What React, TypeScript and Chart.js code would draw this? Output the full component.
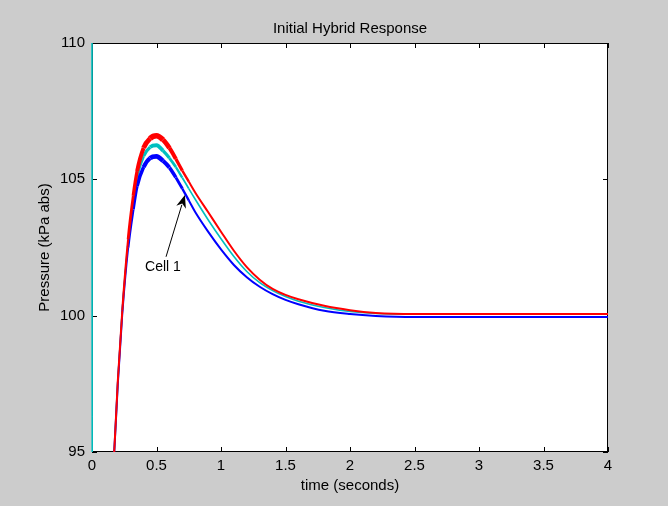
import React, { useEffect, useRef } from "react";
import { Chart, registerables } from "chart.js";

Chart.register(...registerables);

// ---- data ----
const TIME = [0.003, 0.17, 0.2, 0.235, 0.28, 0.32, 0.35, 0.4, 0.45, 0.5, 0.55, 0.6, 0.65, 0.7, 0.75, 0.8, 0.9, 1.0, 1.1, 1.2, 1.3, 1.4, 1.5, 1.6, 1.8, 2.0, 2.2, 2.5, 3.0, 3.5, 4.0];
const RED = [85, 94.8, 97.6, 100.2, 102.8, 104.4, 105.3, 106.15, 106.5, 106.6, 106.45, 106.15, 105.75, 105.32, 104.92, 104.52, 103.8, 103.08, 102.38, 101.78, 101.32, 100.98, 100.76, 100.6, 100.36, 100.2, 100.1, 100.06, 100.06, 100.06, 100.06];
const BLUE = [85, 94.8, 97.5, 100.1, 102.5, 103.9, 104.75, 105.45, 105.78, 105.84, 105.68, 105.43, 105.07, 104.66, 104.23, 103.8, 103.08, 102.43, 101.86, 101.41, 101.06, 100.79, 100.58, 100.42, 100.18, 100.06, 99.99, 99.95, 99.95, 99.95, 99.95];
const CYAN_TIME = [0, 0.003, 0.17, 0.2, 0.235, 0.28, 0.32, 0.35, 0.4, 0.45, 0.5, 0.55, 0.6, 0.65, 0.7, 0.75, 0.8, 0.9, 1.0, 1.1, 1.2, 1.3, 1.4, 1.5, 1.6, 1.8, 2.0, 2.2, 2.6];
const CYAN = [112, 85, 94.8, 97.6, 100.2, 102.7, 104.25, 105.1, 105.85, 106.18, 106.25, 106.05, 105.78, 105.45, 105.06, 104.66, 104.27, 103.52, 102.82, 102.17, 101.62, 101.21, 100.92, 100.7, 100.53, 100.3, 100.15, 100.08, 100.05];

const X_TICKS = [0, 0.5, 1, 1.5, 2, 2.5, 3, 3.5, 4];
const Y_TICKS = [95, 100, 105, 110];

const TITLE = "Initial Hybrid Response";
const X_LABEL = "time (seconds)";
const Y_LABEL = "Pressure (kPa abs)";

const ANNOT_TEXT = "Cell 1";
const ANNOT_TEXT_POS = [0.55, 101.79];
const ANNOT_TAIL = [0.574, 102.16];
const ANNOT_TIP = [0.72, 104.43];

const FONT_FAMILY = "'Liberation Sans', Arial, Helvetica, sans-serif";
const font = { family: FONT_FAMILY, size: 15, weight: "normal" as const };

function widthFn(base: number, peak: number) {
  return (ctx: any) => {
    const t = (ctx.p0.parsed.x + ctx.p1.parsed.x) / 2;
    const k = Math.max(0, 1 - Math.abs(t - 0.5) / 0.25);
    return base + (peak - base) * k;
  };
}

const axesPlugin = {
  id: "matlabAxes",
  beforeDraw(chart: any) {
    const { ctx, chartArea: a } = chart;
    ctx.save();
    ctx.fillStyle = "#ffffff";
    ctx.fillRect(a.left, a.top, a.right - a.left, a.bottom - a.top);
    ctx.restore();
  },
  beforeDatasetsDraw(chart: any) {
    const { ctx, chartArea: a, scales } = chart;
    ctx.save();
    ctx.strokeStyle = "#000";
    ctx.lineWidth = 1;
    ctx.strokeRect(Math.round(a.left) + 0.5, Math.round(a.top) + 0.5, Math.round(a.right - a.left) - 1, Math.round(a.bottom - a.top) - 1);
    const L = 5;
    ctx.beginPath();
    X_TICKS.forEach((v) => {
      const x = Math.round(scales.x.getPixelForValue(v)) + 0.5;
      ctx.moveTo(x, a.bottom);
      ctx.lineTo(x, a.bottom - L);
      ctx.moveTo(x, a.top);
      ctx.lineTo(x, a.top + L);
    });
    Y_TICKS.forEach((v) => {
      const y = Math.round(scales.y.getPixelForValue(v)) + 0.5;
      ctx.moveTo(a.left, y);
      ctx.lineTo(a.left + L, y);
      ctx.moveTo(a.right, y);
      ctx.lineTo(a.right - L, y);
    });
    ctx.stroke();
    ctx.restore();
  },
  afterDatasetsDraw(chart: any) {
    const { ctx, scales } = chart;
    const px = (p: number[]) => [scales.x.getPixelForValue(p[0]), scales.y.getPixelForValue(p[1])];
    const [tx, ty] = px(ANNOT_TAIL);
    const [hx, hy] = px(ANNOT_TIP);
    const ang = Math.atan2(hy - ty, hx - tx);
    const hl = 13, hw = 5;
    ctx.save();
    ctx.strokeStyle = "#000";
    ctx.fillStyle = "#000";
    ctx.lineWidth = 1;
    ctx.beginPath();
    ctx.moveTo(tx, ty);
    ctx.lineTo(hx - Math.cos(ang) * hl * 0.8, hy - Math.sin(ang) * hl * 0.8);
    ctx.stroke();
    ctx.beginPath();
    ctx.moveTo(hx, hy);
    const bx = hx - Math.cos(ang) * hl, by = hy - Math.sin(ang) * hl;
    ctx.lineTo(bx + Math.sin(ang) * hw, by - Math.cos(ang) * hw);
    ctx.lineTo(hx - Math.cos(ang) * hl * 0.7, hy - Math.sin(ang) * hl * 0.7);
    ctx.lineTo(bx - Math.sin(ang) * hw, by + Math.cos(ang) * hw);
    ctx.closePath();
    ctx.fill();
    const [lx, ly] = px(ANNOT_TEXT_POS);
    ctx.font = `14px ${FONT_FAMILY}`;
    ctx.textAlign = "center";
    ctx.textBaseline = "middle";
    ctx.fillText(ANNOT_TEXT, lx, ly);
    ctx.restore();
  },
};

export default function App() {
  const ref = useRef<HTMLCanvasElement | null>(null);
  useEffect(() => {
    if (!ref.current) return;
    const mk = (t: number[], v: number[]) => t.map((x, i) => ({ x, y: v[i] }));
    const clip = { left: 2, top: 0, right: 0, bottom: 0 };
    const common = { pointRadius: 0, cubicInterpolationMode: "monotone", clip };
    const chart = new Chart(ref.current, {
      type: "line",
      data: {
        datasets: [
          { label: "red", data: mk(TIME, RED), borderColor: "#ff0000", borderWidth: 2, segment: { borderWidth: widthFn(2, 6) }, ...common } as any,
          { label: "blue", data: mk(TIME, BLUE), borderColor: "#0000ff", borderWidth: 2, segment: { borderWidth: widthFn(2, 5) }, ...common } as any,
          { label: "cyan", data: mk(CYAN_TIME, CYAN), borderColor: "#00bfbf", borderWidth: 1.6, segment: { borderWidth: widthFn(1.6, 4) }, ...common } as any,
        ],
      },
      options: {
        responsive: false,
        animation: false,
        events: [],
        layout: { padding: { left: 0, right: 60, top: 0, bottom: 0 } },
        plugins: {
          legend: { display: false },
          tooltip: { enabled: false },
          title: {
            display: true,
            text: TITLE,
            color: "#000",
            font,
            fullSize: false,
            padding: { top: 20, bottom: 5 },
          },
        },
        scales: {
          x: {
            type: "linear",
            min: 0,
            max: 4,
            afterBuildTicks: (s: any) => { s.ticks = X_TICKS.map((v) => ({ value: v })); },
            afterFit: (s: any) => { s.height = 54; },
            ticks: { callback: (v: any) => String(v), color: "#000", font, padding: 5, maxRotation: 0, autoSkip: false },
            grid: { display: false, drawTicks: false },
            border: { display: false },
            title: { display: true, text: X_LABEL, color: "#000", font, padding: { top: 0, bottom: 11 } },
          },
          y: {
            type: "linear",
            min: 95,
            max: 110,
            afterBuildTicks: (s: any) => { s.ticks = Y_TICKS.map((v) => ({ value: v })); },
            afterFit: (s: any) => { s.width = 92; },
            ticks: { callback: (v: any) => String(v), color: "#000", font, padding: 7 },
            grid: { display: false, drawTicks: false },
            border: { display: false },
            title: { display: true, text: Y_LABEL, color: "#000", font, padding: { top: 36, bottom: 0 } },
          },
        },
      } as any,
      plugins: [axesPlugin],
    });
    return () => chart.destroy();
  }, []);
  return (
    <div style={{ position: "fixed", left: 0, top: 0, width: 668, height: 506, background: "#cccccc" }}>
      <canvas ref={ref} width={668} height={506} />
    </div>
  );
}
